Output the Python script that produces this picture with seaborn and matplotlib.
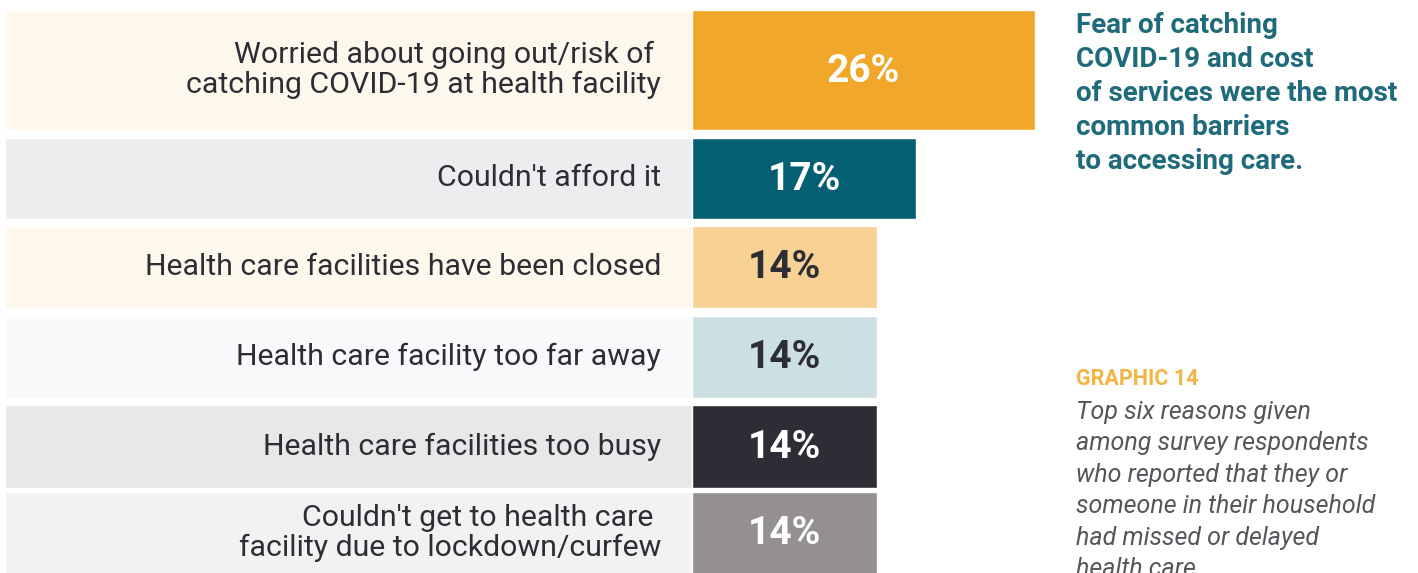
import matplotlib
matplotlib.use("Agg")
import matplotlib.pyplot as plt
import seaborn as sns

# Dane
reasons = [
    "Worried about going out/risk of \ncatching COVID-19 at health facility",
    "Couldn't afford it",
    "Health care facilities have been closed",
    "Health care facility too far away",
    "Health care facilities too busy",
    "Couldn't get to health care \nfacility due to lockdown/curfew",
]
values = [26, 17, 14, 14, 14, 14]
value_labels = ["26%", "17%", "14%", "14%", "14%", "14%"]

bar_colors = ["#F0A72A", "#045F73", "#F7D294", "#CCDFE2", "#2D2D35", "#938F93"]
panel_colors = ["#FEF7EC", "#ECEDEF", "#FEF7EC", "#F8F9FB", "#E9E7E8", "#F2F2F2"]
value_colors = ["white", "white", "#2D2D35", "#2D2D35", "white", "white"]

headline = ("Fear of catching\nCOVID-19 and cost\nof services were the most\n"
            "common barriers\nto accessing care.")
graphic_tag = "GRAPHIC 14"
caption = ("Top six reasons given\namong survey respondents\nwho reported that they or\n"
           "someone in their household\nhad missed or delayed\nhealth care.")

# Układ (piksele)
W, H = 1418, 573
x0 = 692          # początek słupków
scale = 13.2      # pikseli na punkt procentowy
row_top = [10, 138, 226, 316, 405, 492]
row_bot = [130, 219, 308, 398, 488, 574]

sns.set_style("white")
plt.rcParams["font.family"] = ["Roboto", "DejaVu Sans"]

fig = plt.figure(figsize=(W / 100, H / 100), dpi=100)
ax = fig.add_axes([0, 0, 1, 1])

sns.barplot(x=values, y=reasons, hue=reasons, palette=bar_colors, legend=False,
            orient="h", width=1, saturation=1, ax=ax, zorder=2)

ax.set_xlim(-x0 / scale, (W - x0) / scale)
ax.set_ylim(H, 0)
ax.axis("off")

# przesunięcie słupków w wiersze o różnej wysokości
for p, t, b in zip(ax.patches, row_top, row_bot):
    p.set_y(t)
    p.set_height(b - t)

centers = [(t + b) / 2 for t, b in zip(row_top, row_bot)]
heights = [b - t for t, b in zip(row_top, row_bot)]
left = (5 - x0) / scale
ax.barh(centers, [-left] * 6, left=left, height=heights, color=panel_colors, zorder=1)

for c, lab, v, vl, vc in zip(centers, reasons, values, value_labels, value_colors):
    ax.text((661 - x0) / scale, c, lab, ha="right", va="center", ma="right",
            fontsize=21.8, color="#2D2D35", linespacing=1.08, zorder=3)
    ax.text(v / 2, c + 1, vl, ha="center", va="center", fontsize=28,
            fontweight="bold", color=vc, zorder=3)

tx = (1076 - x0) / scale
ax.text(tx, 12, headline, ha="left", va="top", fontsize=20, fontweight="bold",
        color="#1F6B7B", linespacing=1.33)
ax.text(tx, 379, graphic_tag, ha="left", va="center", fontsize=15.5,
        fontweight="bold", color="#F2B544")
# podpis jest ucięty dolną krawędzią, tak jak w oryginale
ax.text(tx, 400, caption, ha="left", va="top", fontsize=18, style="italic",
        color="#55555C", linespacing=1.39)

fig.savefig("out.png", dpi=100)
